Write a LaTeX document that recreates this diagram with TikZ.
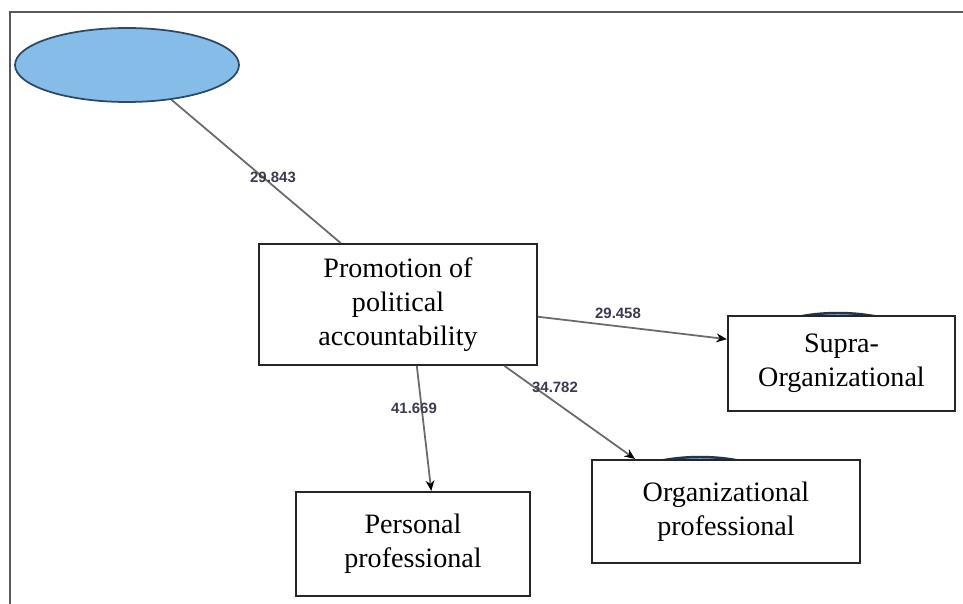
\documentclass[tikz,border=0pt]{standalone}
\usepackage{fontspec}
\setmainfont{Liberation Serif}
\newfontfamily\lblfont{Liberation Sans}
\usepackage{xcolor}
\usepackage{tikz}
\usetikzlibrary{arrows,arrows.meta,shapes,shapes.geometric,positioning}

\definecolor{ellblue}{HTML}{86BCE8}
\definecolor{ellrim}{HTML}{2C4A68}
\definecolor{hidrim}{HTML}{1F3550}
\definecolor{linegray}{HTML}{6A6A6A}
\definecolor{lblcol}{HTML}{3B3B4E}

\tikzset{
	varbox/.style={draw=black!85, line width=1.2pt, fill=white, align=center,
		font=\fontsize{16}{19.5}\selectfont, inner sep=0pt},
	latent/.style={ellipse, draw=ellrim, line width=1pt, fill=ellblue,
		minimum width=4.48cm, minimum height=1.48cm, inner sep=0pt},
	hidlatent/.style={ellipse, draw=hidrim, line width=1.4pt, fill=ellblue,
		minimum width=3.6cm, minimum height=1.48cm, inner sep=0pt},
	path/.style={draw=linegray, line width=1pt},
	tip/.style={-{Stealth[length=6pt,width=5pt,black]}},
	lbl/.style={font=\lblfont\bfseries\fontsize{8.5}{10}\selectfont, text=lblcol, inner sep=1pt}
}

\begin{document}
\begin{tikzpicture}[x=0.02cm,y=-0.02cm]
				\useasboundingbox (0,0) rectangle (963,604);
				\fill[white] (0,0) rectangle (963,604);
				
				% frame of the figure
				\draw [draw=black!65, line width=1pt] (963,12) -- (10,12) -- (10,604);
				
				% ellipses hidden behind the boxes
				\node [hidlatent] (supraell) at (838,350) {};
				\node [hidlatent] (orgell) at (700,494) {};
				
				\node [latent] (latent) at (127,65) {};
				
				\node [varbox, minimum width=5.56cm, minimum height=2.42cm] (prom) at (398,304.5) {Promotion of\\political\\accountability};
				\node [varbox, minimum width=4.54cm, minimum height=1.9cm] (supra) at (841.5,363.5) {Supra-\\Organizational};
				\node [varbox, minimum width=5.36cm, minimum height=2.06cm] (org) at (726,511.5) {Organizational\\professional};
				\node [varbox, minimum width=4.68cm, minimum height=2.08cm] (pers) at (413,544) {Personal\\professional};
				
				% % % % % % % % % % % % % % % % % % % % % % % % % %
				
				\draw [path] (latent.-38) -- (prom.133.3);
				\draw [path, tip] (prom.-5.5) -- (supra.168.3);
				\draw [path, tip] (prom.-30.3) -- (org.150.6);
				\draw [path, tip] (prom.-73.9) -- (pers.71.6);
				
				\node [lbl] (w1) at (273,177) {29.843};
				\node [lbl] (w2) at (618,313) {29.458};
				\node [lbl] (w3) at (555,387) {34.782};
				\node [lbl] (w4) at (414,408) {41.669};
\end{tikzpicture}
\end{document}
